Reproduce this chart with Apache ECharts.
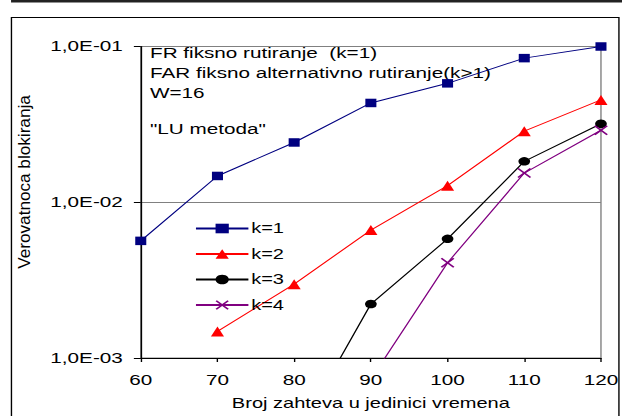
<!DOCTYPE html>
<html>
<head>
<meta charset="utf-8">
<script src="https://cdn.jsdelivr.net/npm/echarts@6/dist/echarts.min.js"></script>
<style>
  html, body { margin: 0; padding: 0; background: #fff; overflow: hidden; }
  /* the source picture is an Excel chart stretched sideways, so draw narrow and stretch */
  #chart { width: 451px; height: 416px; transform: scaleX(1.38); transform-origin: 0 0; }
</style>
</head>
<body>
<div id="chart"></div>
<script>
const xValues = [60, 70, 80, 90, 100, 110, 120];
const seriesNames = ['k=1', 'k=2', 'k=3', 'k=4'];
const k1 = [0.00565, 0.01475, 0.0242, 0.0434, 0.058, 0.0842, 0.1];
const k2 = [null, 0.00148, 0.00298, 0.00663, 0.01277, 0.0286, 0.0454];
const k3 = [null, null, 0.0003, 0.00222, 0.00582, 0.0183, 0.0319];
const k4 = [null, null, null, 0.00073, 0.00409, 0.0154, 0.029];
const yTickLabels = { '-3': '1,0E-03', '-2': '1,0E-02', '-1': '1,0E-01' };
const noteLines = [
  'FR fiksno rutiranje  (k=1)',
  'FAR fiksno alternativno rutiranje(k>1)',
  'W=16',
  '"LU metoda"'
];
const noteY = [53, 73, 93, 129];

const FONT = 'Liberation Sans, Arial, sans-serif';
const colors = ['#000080', '#ff0000', '#000000', '#800080'];
const symbols = [
  'rect',
  'triangle',
  'circle',
  'path://M1,0 L5,4 L9,0 L10,1 L6,5 L10,9 L9,10 L5,6 L1,10 L0,9 L4,5 L0,1 Z'
];
const symbolSizes = [[8, 8.5], [9.5, 10], [8.5, 8.5], [10, 10]];

const chart = echarts.init(document.getElementById('chart'), null, { renderer: 'svg' });

function pairs(values) {
  return xValues.map((x, i) => [x, values[i]]).filter(p => p[1] != null);
}

const series = [k1, k2, k3, k4].map((vals, i) => ({
  name: seriesNames[i],
  type: 'line',
  data: pairs(vals),
  symbol: symbols[i],
  symbolSize: symbolSizes[i],
  clip: true,
  color: colors[i],
  lineStyle: { width: 1, color: colors[i] },
  itemStyle: { color: colors[i] }
}));

const option = {
  animation: false,
  grid: {
    left: 102, right: 15, top: 46.5, bottom: 53,
    show: true, borderColor: '#808080', borderWidth: 1
  },
  legend: {
    orient: 'vertical',
    left: 136, top: 216,
    itemWidth: 38, itemHeight: 12, itemGap: 10.5,
    textStyle: { fontFamily: FONT, fontSize: 14.5, color: '#000', lineHeight: 12, padding: [0, 0, 0, -3] },
    data: seriesNames
  },
  xAxis: {
    type: 'value',
    min: 60, max: 120, interval: 10,
    name: 'Broj zahteva u jedinici vremena',
    nameLocation: 'middle',
    nameGap: 38,
    nameTextStyle: { fontFamily: FONT, fontSize: 14.5, color: '#000' },
    axisLine: { lineStyle: { color: '#000', width: 1 } },
    axisTick: { show: true, length: 4, lineStyle: { color: '#000' } },
    axisLabel: { fontFamily: FONT, fontSize: 15, color: '#000', margin: 15 },
    splitLine: { show: false }
  },
  yAxis: {
    type: 'log',
    logBase: 10,
    min: 0.001, max: 0.1,
    axisLine: { show: true, lineStyle: { color: '#000', width: 1 } },
    axisTick: { show: true, length: 5, lineStyle: { color: '#000' } },
    minorTick: { show: false },
    axisLabel: {
      fontFamily: FONT, fontSize: 15, color: '#000', margin: 13,
      formatter: v => yTickLabels[String(Math.round(Math.log10(v)))] || ''
    },
    splitLine: { show: true, lineStyle: { color: '#808080', width: 1 } }
  },
  graphic: [
    { type: 'rect', shape: { x: 8, y: 0, width: 443, height: 2.5 }, style: { fill: '#222' }, silent: true },
    { type: 'rect', shape: { x: 8.3, y: 17.5, width: 440.2, height: 420 }, style: { fill: 'none', stroke: '#000', lineWidth: 1 }, silent: true },
    {
      type: 'text', x: 18, y: 182, rotation: Math.PI / 2, scaleX: 1.43,
      style: { text: 'Verovatnoca blokiranja', font: '12px ' + FONT, fill: '#000', align: 'center', verticalAlign: 'middle' }
    }
  ].concat(noteLines.map((t, i) => ({
    type: 'text', x: 108.7, y: noteY[i],
    style: { text: t, font: '15px ' + FONT, fill: '#000', align: 'left', verticalAlign: 'middle' }
  }))),
  series
};

chart.setOption(option);
</script>
</body>
</html>
